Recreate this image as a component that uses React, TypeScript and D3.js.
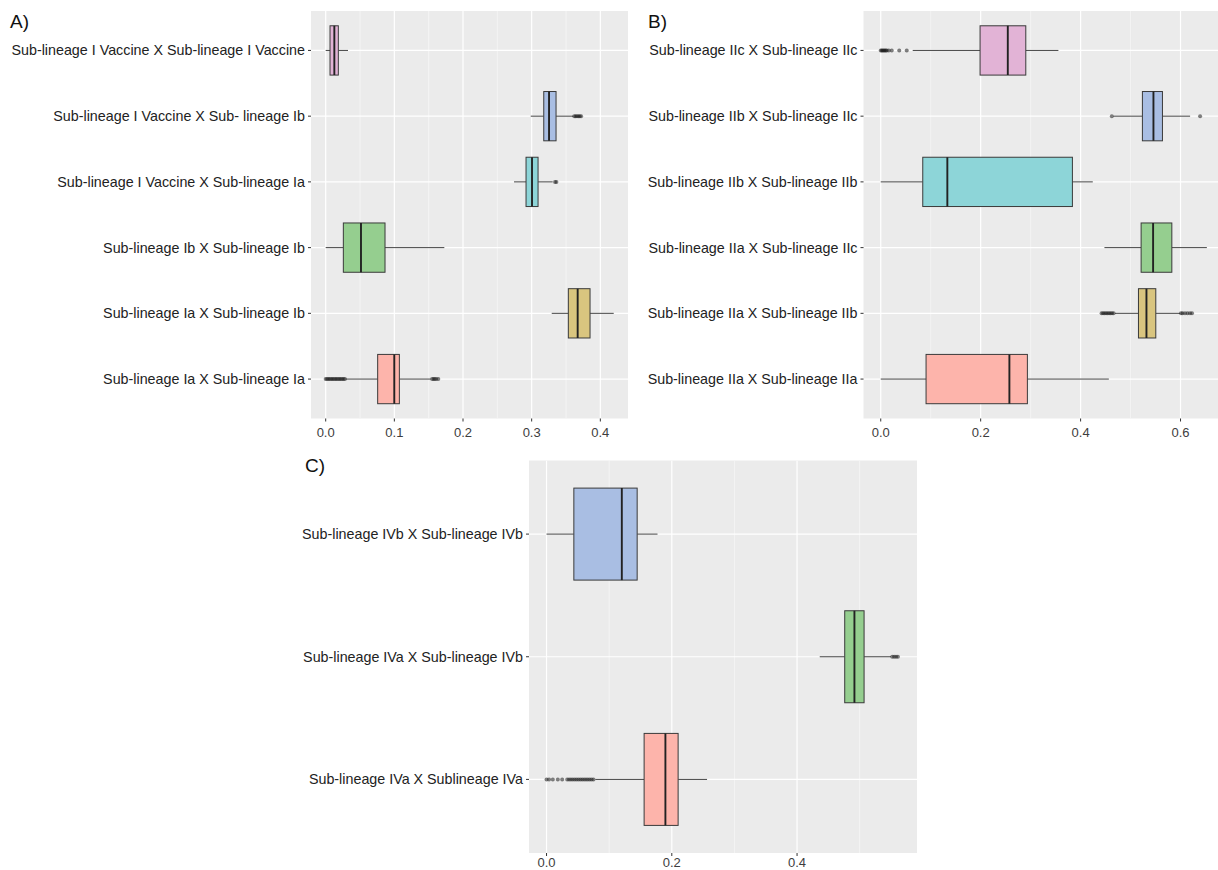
import React from "react";
import * as d3 from "d3";

// ---------- DATA ----------
// stats: [lowerWhisker, q1, median, q3, upperWhisker], rows listed top to bottom
const labelsA = [
  "Sub-lineage I Vaccine X Sub-lineage I Vaccine",
  "Sub-lineage I Vaccine X Sub- lineage Ib",
  "Sub-lineage I Vaccine X Sub-lineage Ia",
  "Sub-lineage Ib X Sub-lineage Ib",
  "Sub-lineage Ia X Sub-lineage Ib",
  "Sub-lineage Ia X Sub-lineage Ia",
];
const statsA = [
  [0.0, 0.0063, 0.0126, 0.0184, 0.0325],
  [0.2986, 0.3176, 0.3253, 0.3355, 0.3607],
  [0.2743, 0.2918, 0.3005, 0.3093, 0.3307],
  [0.0, 0.0257, 0.0514, 0.0864, 0.1728],
  [0.3292, 0.3534, 0.367, 0.385, 0.4195],
  [0.0291, 0.0757, 0.0999, 0.1073, 0.153],
];
const outliersA = [
  [],
  [0.362, 0.364, 0.366, 0.368, 0.37, 0.372],
  [0.334, 0.336],
  [],
  [],
  [0.0, 0.002, 0.004, 0.006, 0.008, 0.01, 0.012, 0.014, 0.016, 0.018, 0.02, 0.022, 0.024, 0.026, 0.028, 0.155, 0.157, 0.159, 0.161, 0.164],
];
const ticksA = [0, 0.1, 0.2, 0.3, 0.4];
const minorA = [0.05, 0.15, 0.25, 0.35];

const labelsB = [
  "Sub-lineage IIc X Sub-lineage IIc",
  "Sub-lineage IIb X Sub-lineage IIc",
  "Sub-lineage IIb X Sub-lineage IIb",
  "Sub-lineage IIa X Sub-lineage IIc",
  "Sub-lineage IIa X Sub-lineage IIb",
  "Sub-lineage IIa X Sub-lineage IIa",
];
const statsB = [
  [0.064, 0.1988, 0.2543, 0.2903, 0.3556],
  [0.4657, 0.5237, 0.5458, 0.5638, 0.6192],
  [0.0, 0.0841, 0.1333, 0.3836, 0.4244],
  [0.4477, 0.5211, 0.5451, 0.5826, 0.6527],
  [0.469, 0.5158, 0.5318, 0.5505, 0.599],
  [0.0, 0.0907, 0.2575, 0.2935, 0.4565],
];
const outliersB = [
  [0.0, 0.002, 0.004, 0.006, 0.008, 0.01, 0.012, 0.016, 0.022, 0.037, 0.052],
  [0.4625, 0.6392],
  [],
  [],
  [0.442, 0.445, 0.448, 0.451, 0.454, 0.457, 0.46, 0.463, 0.466, 0.601, 0.604, 0.609, 0.614, 0.619, 0.623],
  [],
];
const ticksB = [0, 0.2, 0.4, 0.6];
const minorB = [0.1, 0.3, 0.5];

const labelsC = [
  "Sub-lineage IVb X Sub-lineage IVb",
  "Sub-lineage IVa X Sub-lineage IVb",
  "Sub-lineage IVa X Sublineage IVa",
];
const statsC = [
  [0.0, 0.0436, 0.1202, 0.1447, 0.1772],
  [0.4362, 0.4761, 0.4916, 0.507, 0.55],
  [0.078, 0.1558, 0.1898, 0.2101, 0.2563],
];
const outliersC = [
  [],
  [0.552, 0.555, 0.558, 0.561],
  [0.0, 0.004, 0.01, 0.018, 0.025, 0.033, 0.036, 0.039, 0.042, 0.045, 0.048, 0.051, 0.054, 0.057, 0.06, 0.063, 0.066, 0.069, 0.072, 0.075],
];
const ticksC = [0, 0.2, 0.4];
const minorC = [0.1, 0.3, 0.5];

const PINK = "#e2b3d6";
const BLUE = "#a9bee3";
const TEAL = "#8dd5d8";
const GREEN = "#95ce8f";
const GOLD = "#d9c57f";
const SALMON = "#fdb4ab";
const colorsAB = [PINK, BLUE, TEAL, GREEN, GOLD, SALMON];
const colorsC = [BLUE, GREEN, SALMON];

const FONT = "'Liberation Sans', Arial, Helvetica, sans-serif";

type PanelProps = {
  tag: string;
  tagX: number;
  tagY: number;
  left: number;
  right: number;
  top: number;
  bottom: number;
  domain: [number, number];
  labels: string[];
  stats: number[][];
  outliers: number[][];
  colors: string[];
  ticks: number[];
  minor: number[];
  clipRight?: number;
  tickLabelOffset?: number;
};

function Panel(p: PanelProps) {
  const x = d3.scaleLinear().domain(p.domain).range([p.left, p.right]);
  const y = d3.scalePoint<string>().domain(p.labels).range([p.top, p.bottom]).padding(0.6);
  const step = y.step();
  const bh = step * 0.75;
  const fmt = d3.format(".1f");
  const clipId = "clip-" + p.tag.replace(/\W/g, "");
  const visRight = p.clipRight ?? p.right;
  const tlo = p.tickLabelOffset ?? 18;
  return (
    <g>
      <defs>
        <clipPath id={clipId}>
          <rect x={p.left} y={p.top} width={visRight - p.left} height={p.bottom - p.top} />
        </clipPath>
      </defs>
      <text x={p.tagX} y={p.tagY} fontSize={19} fontFamily={FONT} fill="#111">{p.tag}</text>
      <rect x={p.left} y={p.top} width={visRight - p.left} height={p.bottom - p.top} fill="#ebebeb" />
      <g clipPath={`url(#${clipId})`}>
        {p.minor.map((t) => (
          <line key={"m" + t} x1={x(t)} x2={x(t)} y1={p.top} y2={p.bottom} stroke="#fafafa" strokeWidth={0.6} />
        ))}
        {p.ticks.map((t) => (
          <line key={"M" + t} x1={x(t)} x2={x(t)} y1={p.top} y2={p.bottom} stroke="#ffffff" strokeWidth={1.2} />
        ))}
        {p.labels.map((l) => (
          <line key={"h" + l} x1={p.left} x2={visRight} y1={y(l)} y2={y(l)} stroke="#ffffff" strokeWidth={1.2} />
        ))}
        {p.labels.map((l, i) => {
          const [lo, q1, med, q3, hi] = p.stats[i];
          const cy = y(l) as number;
          return (
            <g key={"b" + l}>
              <line x1={x(lo)} x2={x(q1)} y1={cy} y2={cy} stroke="#444" strokeWidth={1} />
              <line x1={x(q3)} x2={x(hi)} y1={cy} y2={cy} stroke="#444" strokeWidth={1} />
              <rect x={x(q1)} y={cy - bh / 2} width={x(q3) - x(q1)} height={bh} fill={p.colors[i]} stroke="#3a3a3a" strokeWidth={1} />
              <line x1={x(med)} x2={x(med)} y1={cy - bh / 2} y2={cy + bh / 2} stroke="#222" strokeWidth={1.9} />
              {p.outliers[i].map((v, j) => (
                <circle key={j} cx={x(v)} cy={cy} r={2} fill="#1a1a1a" fillOpacity={0.55} />
              ))}
            </g>
          );
        })}
      </g>
      {p.ticks.map((t) => (
        <g key={"t" + t}>
          <line x1={x(t)} x2={x(t)} y1={p.bottom} y2={p.bottom + 3} stroke="#333" strokeWidth={1} />
          <text x={x(t)} y={p.bottom + tlo} textAnchor="middle" fontSize={13} fontFamily={FONT} fill="#3d3d3d">
            {fmt(t)}
          </text>
        </g>
      ))}
      {p.labels.map((l) => (
        <g key={"y" + l}>
          <line x1={p.left - 3} x2={p.left} y1={y(l)} y2={y(l)} stroke="#333" strokeWidth={1} />
          <text x={p.left - 6} y={y(l)} dy="0.35em" textAnchor="end" fontSize={14.3} fontFamily={FONT} fill="#222">
            {l}
          </text>
        </g>
      ))}
    </g>
  );
}

export default function App() {
  return (
    <svg width={1218} height={870} style={{ position: "absolute", left: 0, top: 0, background: "#fff" }}>
      <Panel
        tag="A)" tagX={10} tagY={28}
        left={311} right={628} top={11} bottom={418.5}
        domain={[-0.0214, 0.4403]}
        labels={labelsA} stats={statsA} outliers={outliersA} colors={colorsAB}
        ticks={ticksA} minor={minorA}
      />
      <Panel
        tag="B)" tagX={648} tagY={28}
        left={863.5} right={1222} clipRight={1218} top={11} bottom={418.5}
        domain={[-0.0345, 0.683]}
        labels={labelsB} stats={statsB} outliers={outliersB} colors={colorsAB}
        ticks={ticksB} minor={minorB}
      />
      <Panel
        tag="C)" tagX={305} tagY={472}
        left={529} right={917} top={460.5} bottom={853}
        domain={[-0.028, 0.5915]}
        labels={labelsC} stats={statsC} outliers={outliersC} colors={colorsC}
        ticks={ticksC} minor={minorC} tickLabelOffset={13.5}
      />
    </svg>
  );
}
